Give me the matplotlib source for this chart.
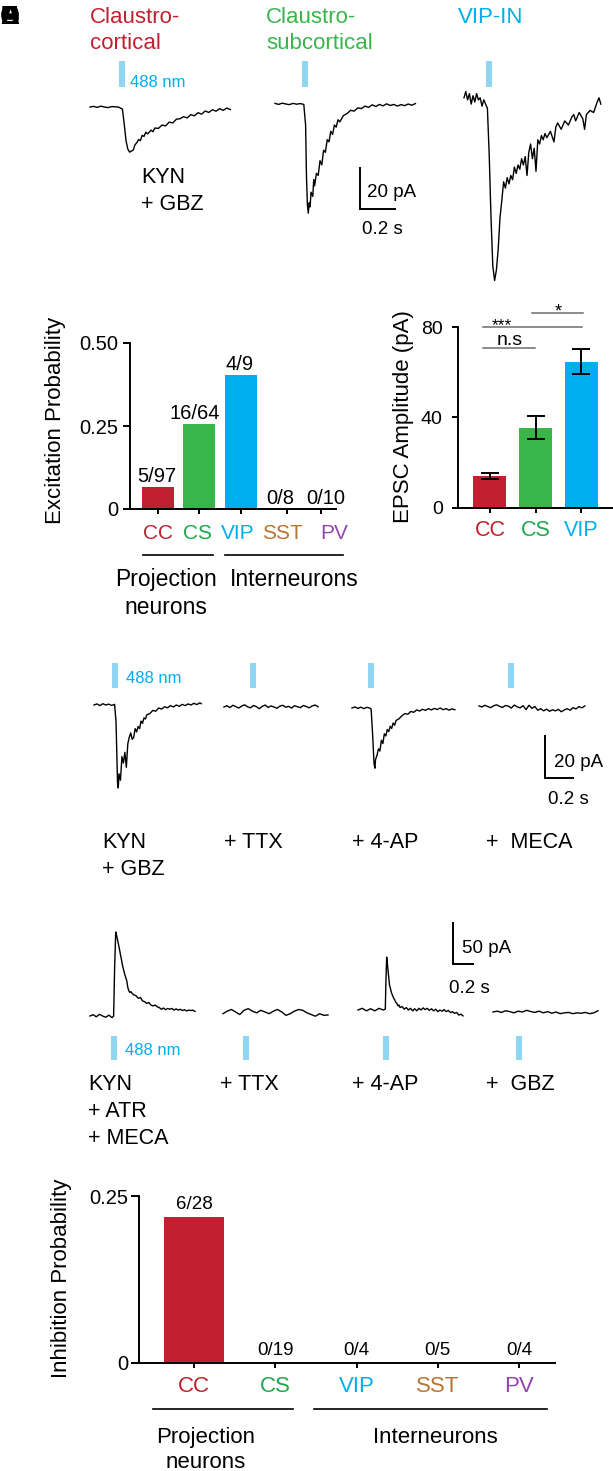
import matplotlib
matplotlib.use("Agg")
import matplotlib.pyplot as plt

plt.rcParams["font.family"] = ["Liberation Sans", "DejaVu Sans"]

W, H = 613, 1471
PT = 100 / 72.0  # pixels per point at 100 dpi

RED = "#c0202f"
GREEN = "#39b54a"
GREEN_TXT = "#1aa94b"
BLUE = "#00aeef"
BROWN = "#b9742f"
PURPLE = "#9146ad"
STIM = "#8fd6f4"
GREY = "#6d6e71"

# ---------------- bar chart data ----------------
exc_cells = ["CC", "CS", "VIP", "SST", "PV"]
exc_prob = [0.067, 0.255, 0.405, 0.0, 0.0]
exc_counts = ["5/97", "16/64", "4/9", "0/8", "0/10"]

epsc_cells = ["CC", "CS", "VIP"]
epsc_mean = [14.2, 35.4, 64.6]
epsc_sem = [1.3, 5.1, 5.5]

inh_cells = ["CC", "CS", "VIP", "SST", "PV"]
inh_prob = [0.218, 0.0, 0.0, 0.0, 0.0]
inh_counts = ["6/28", "0/19", "0/4", "0/5", "0/4"]

cell_color = {"CC": RED, "CS": GREEN, "VIP": BLUE, "SST": BROWN, "PV": PURPLE}
cell_text = {"CC": RED, "CS": GREEN_TXT, "VIP": BLUE, "SST": BROWN, "PV": PURPLE}

# ---------------- traces (time s, current pA) ----------------
trace_cc = [(0, 0), (.02, .3), (.04, -.2), (.06, .4), (.08, 0), (.10, -.3), (.12, .2), (.14, .1), (.16, -.1),
            (.18, -1), (.19, -8), (.20, -16), (.21, -20), (.22, -21.5), (.23, -21), (.24, -20.5), (.25, -18),
            (.26, -17), (.27, -15.5), (.28, -16), (.29, -13.5), (.30, -14), (.31, -12), (.32, -12.8), (.34, -11),
            (.35, -11.8), (.36, -10), (.38, -10.2), (.40, -8.6), (.42, -9), (.44, -7.2), (.46, -7.6), (.48, -5.8),
            (.50, -5.6), (.52, -4.6), (.54, -5.2), (.56, -3.6), (.58, -4.2), (.60, -2.7), (.62, -3.4), (.64, -1.9),
            (.66, -2.6), (.68, -1.3), (.70, -2.0), (.72, -.8), (.74, -1.6), (.76, -.5), (.78, -1.2)]
trace_cs = [(0, .3), (.02, -.2), (.04, .4), (.06, 0), (.08, -.3), (.10, .3), (.12, -.1), (.14, .2), (.16, -.2),
            (.17, -10), (.175, -35), (.18, -48), (.185, -52), (.19, -47), (.195, -49), (.20, -42), (.21, -44),
            (.215, -36), (.22, -39), (.23, -33), (.24, -34), (.25, -27), (.26, -29), (.27, -22), (.28, -23),
            (.29, -17), (.30, -18), (.31, -13), (.32, -14.5), (.33, -10), (.34, -11), (.35, -7.5), (.36, -8.5),
            (.38, -5.5), (.40, -4.6), (.42, -3), (.44, -3.4), (.46, -1.8), (.48, -2.2), (.50, -1), (.52, -1.6),
            (.54, -.4), (.56, -1.2), (.58, -.2), (.60, -.9), (.62, .1), (.64, -.7), (.66, -.2), (.68, -1),
            (.70, -.3), (.72, -.8), (.74, 0), (.76, -.6), (.78, .2)]
trace_vip = [(0, 2), (.01, 5), (.02, 1), (.03, 4), (.04, -1), (.05, 3), (.06, 0), (.07, 4), (.08, 1), (.09, 2),
             (.10, -2), (.11, 1), (.12, -1), (.13, -3), (.14, -25), (.15, -55), (.16, -78), (.17, -85), (.18, -80),
             (.19, -70), (.20, -55), (.21, -47), (.22, -38), (.23, -41), (.24, -36), (.25, -39), (.26, -35),
             (.27, -37), (.28, -31), (.29, -34), (.30, -30), (.31, -32), (.32, -27), (.33, -30), (.34, -26),
             (.35, -35), (.36, -24), (.37, -20), (.38, -27), (.39, -22), (.40, -33), (.41, -18), (.42, -20),
             (.43, -16), (.44, -18), (.45, -15), (.46, -17), (.48, -14), (.50, -19), (.51, -12), (.52, -10),
             (.54, -13), (.56, -9), (.58, -11), (.60, -7), (.61, -6), (.62, -9), (.64, -5), (.66, -8), (.67, -13),
             (.68, -6), (.70, -4), (.72, -5), (.74, 0), (.75, 2), (.76, -1)]

trace_kyn = [(0, 0), (.02, .5), (.04, -.3), (.06, .6), (.08, 0), (.10, .4), (.12, -.2), (.14, .3), (.15, -8),
             (.16, -36), (.165, -38.6), (.17, -32), (.18, -35), (.19, -24), (.20, -27), (.21, -22), (.22, -29),
             (.23, -18), (.24, -15), (.25, -13), (.26, -16), (.27, -15), (.28, -11), (.29, -12.5), (.30, -10),
             (.31, -11), (.32, -7.5), (.33, -8.5), (.34, -6), (.35, -6.5), (.36, -4.5), (.38, -4), (.40, -2.5),
             (.42, -2.9), (.44, -1.4), (.46, -1.9), (.48, -.8), (.50, -1.3), (.52, -.3), (.54, -.9), (.56, 0),
             (.58, -.6), (.60, .3), (.62, -.3), (.64, .5), (.66, 0), (.68, .8), (.70, .2), (.72, 1), (.73, .6)]
trace_ttx = [(0, 0), (.02, .6), (.04, -.3), (.06, .8), (.08, .2), (.10, -.5), (.12, .4), (.14, 1), (.16, .1),
             (.18, -.4), (.20, .7), (.22, .2), (.24, -.8), (.26, .3), (.28, .9), (.30, -.2), (.32, .5), (.34, 0),
             (.36, -.6), (.38, .4), (.40, .8), (.42, -.1), (.44, .3), (.46, -.5), (.48, .6), (.50, .1), (.52, -.3),
             (.54, .7), (.56, .2), (.58, -.4), (.60, .5), (.62, .9), (.64, .1)]
trace_4ap = [(0, 0), (.02, .5), (.04, -.2), (.06, .4), (.08, -.3), (.10, .3), (.12, 0), (.13, -.5), (.14, -12),
             (.15, -26), (.156, -28), (.16, -24), (.17, -22), (.18, -19), (.19, -20), (.20, -15), (.21, -16.5),
             (.22, -12), (.23, -13), (.24, -10), (.25, -11), (.26, -8.5), (.27, -9.5), (.28, -7), (.29, -8),
             (.30, -5.8), (.32, -5), (.34, -3.6), (.36, -2.6), (.38, -2.9), (.40, -1.6), (.42, -2), (.44, -.9),
             (.46, -1.4), (.48, -.6), (.50, -1.1), (.52, -.3), (.54, -.9), (.56, -.2), (.58, -.7), (.60, 0),
             (.62, -.8), (.64, -.3), (.66, -1), (.68, -.4), (.70, -.8)]
trace_meca = [(0, .5), (.02, 0), (.04, .8), (.06, .2), (.08, -.3), (.10, .6), (.12, 1), (.14, .3), (.16, -.2),
              (.18, .7), (.20, .4), (.22, -.5), (.24, .9), (.26, .1), (.28, -.4), (.30, .6), (.32, -1.2), (.34, .8),
              (.36, -.6), (.38, .2), (.40, -1.5), (.42, -.8), (.44, -1.8), (.46, -1), (.48, -2), (.50, -1.3),
              (.52, -1.8), (.54, -1.1), (.56, -2.2), (.58, -1.4), (.60, -.8), (.62, -1.5), (.64, -.3), (.66, -.9),
              (.68, .2), (.70, -.4), (.72, .5)]

trace_ipsc = [(0, 0), (.03, 1.5), (.06, -1), (.09, 2), (.12, 0), (.15, -1.5), (.18, 1), (.21, -2), (.225, 0),
              (.235, 60), (.245, 100), (.25, 98), (.26, 92), (.27, 86), (.28, 80), (.29, 73), (.30, 67), (.31, 60),
              (.32, 55), (.33, 50), (.34, 46), (.35, 42), (.36, 34), (.37, 30), (.38, 28), (.39, 29), (.40, 27),
              (.42, 25), (.44, 24), (.46, 21), (.48, 22), (.50, 18), (.52, 17), (.54, 15), (.56, 16), (.58, 13),
              (.60, 12), (.62, 13), (.64, 11), (.66, 10), (.68, 8), (.70, 9.5), (.72, 7.5), (.74, 9), (.76, 8),
              (.78, 9), (.80, 7), (.82, 8.5), (.84, 7), (.86, 8), (.88, 6.5), (.90, 7.5), (.92, 6), (.94, 7),
              (.96, 6.5), (.98, 7), (1.0, 5.5)]
trace_ipsc_ttx = [(0, -2), (.04, 1), (.08, 3), (.12, 0), (.16, -3), (.20, 2), (.24, 4), (.28, 1), (.32, -1),
                  (.36, 2), (.40, 0), (.44, -2), (.48, 1), (.52, 3), (.56, 0), (.60, -4), (.64, -2), (.68, 1),
                  (.72, 3), (.76, 2), (.80, -1), (.84, -3), (.88, -5), (.92, -2), (.96, -4), (1.0, -3.5)]
trace_ipsc_4ap = [(0, 0), (.04, 2), (.08, -1), (.12, 1.5), (.16, -1), (.20, 2), (.24, 0), (.26, 1), (.265, 30),
                  (.273, 63), (.28, 55), (.29, 42), (.30, 30), (.31, 25), (.32, 20), (.33, 17), (.34, 14),
                  (.35, 12), (.36, 9), (.37, 8), (.38, 5), (.39, 6), (.40, 3), (.42, 4), (.44, 1), (.46, 3),
                  (.48, 0), (.50, 2), (.52, -1), (.54, 1.5), (.56, -1), (.58, 2), (.60, 0), (.62, 2.5), (.64, .5),
                  (.66, 2), (.68, -.5), (.70, 1.5), (.72, -1), (.74, 1), (.76, -2), (.78, 0), (.80, -1.5),
                  (.82, .5), (.84, -2), (.86, -.5), (.88, -3), (.90, -2), (.92, -4), (.94, -3), (.96, -6),
                  (.98, -5), (1.0, -7)]
trace_ipsc_gbz = [(0, 0), (.04, 1), (.08, -.5), (.12, 1.5), (.16, .5), (.20, -1), (.24, 1), (.28, 0), (.32, 2),
                  (.36, .5), (.40, -.5), (.44, 1), (.48, -1), (.52, .5), (.56, -1.5), (.60, 0), (.64, -2),
                  (.68, -1), (.72, -.5), (.76, -2), (.80, -1), (.84, -1.5), (.88, -.5), (.92, -2), (.96, -1),
                  (1.0, 1.5)]

# light onset (s) for every trace, same order as the rows below
stim_a = [0.178, 0.167, 0.139]
stim_d = [0.143, 0.197, 0.129, 0.218]
stim_e = [0.229, 0.219, 0.262, 0.248]

fig = plt.figure(figsize=(W / 100, H / 100), dpi=100)


def px_rect(left, top, right, bottom):
    return [left / W, 1 - bottom / H, (right - left) / W, (bottom - top) / H]


def trace_ax(x0, yb, pps, ppa):
    # full-figure axes: t=0 at pixel x0, 0 pA at pixel row yb
    ax = fig.add_axes([0, 0, 1, 1])
    ax.set_xlim(-x0 / pps, (W - x0) / pps)
    ax.set_ylim(-(H - yb) / ppa, yb / ppa)
    ax.set_axis_off()
    return ax


def px2data(ax, xpx, ypx):
    return ax.transData.inverted().transform((xpx, H - ypx))


def draw_row(traces, origins, stims, pps, ppa, stim_top, stim_bot):
    axes = []
    for tr, (x0, yb), ts in zip(traces, origins, stims):
        ax = trace_ax(x0, yb, pps, ppa)
        t, i = zip(*tr)
        ax.plot(t, i, color="k", lw=1.0)
        lo = px2data(ax, 0, stim_bot)[1]
        hi = px2data(ax, 0, stim_top)[1]
        ax.plot([ts, ts], [lo, hi], color=STIM, lw=4.3, solid_capstyle="butt")
        axes.append(ax)
    return axes


def scale_bar(ax, xpx, ypx, dt, di):
    x, y = px2data(ax, xpx, ypx)
    ax.plot([x, x, x + dt], [y + di, y, y], color="k", lw=1.4,
            solid_joinstyle="miter", solid_capstyle="butt")


# ---------- row A ----------
axA = draw_row([trace_cc, trace_cs, trace_vip], [(90, 107), (275, 104), (464, 102)],
               stim_a, 180, 2.1, 61, 87)
scale_bar(axA[1], 360, 209, 0.2, 20)

# ---------- row D ----------
axD = draw_row([trace_kyn, trace_ttx, trace_4ap, trace_meca],
               [(94, 705), (224, 707), (352, 708), (479, 707)], stim_d, 147, 2.15, 663, 688)
scale_bar(axD[3], 545, 778, 0.2, 20)

# ---------- row E ----------
axE = draw_row([trace_ipsc, trace_ipsc_ttx, trace_ipsc_4ap, trace_ipsc_gbz],
               [(90, 1016), (223, 1012), (358, 1010), (493, 1012)], stim_e, 105, 0.84, 1036, 1060)
scale_bar(axE[2], 453, 964, 0.2, 50)


def style(ax, ylen, ypad, ysize, xlen=3.6):
    for s in ("top", "right"):
        ax.spines[s].set_visible(False)
    for s in ("left", "bottom"):
        ax.spines[s].set_linewidth(1.4)
    ax.tick_params(axis="y", length=ylen, width=1.4, pad=ypad, labelsize=ysize)
    ax.tick_params(axis="x", length=xlen, width=1.4)
    ax.patch.set_visible(False)


# ---------- panel B: excitation probability ----------
axB = fig.add_axes(px_rect(130, 343, 336, 509))
b_pos = [0, 1, 2.02, 3.15, 3.98]
axB.bar(b_pos, exc_prob, width=0.78, color=[cell_color[c] for c in exc_cells], linewidth=0)
axB.set_xlim(-0.683, 4.34)
axB.set_ylim(0, 0.5)
axB.set_yticks([0, 0.25, 0.5], ["0", "0.25", "0.50"])
axB.set_xticks(b_pos, [""] * len(b_pos))
style(axB, 5, 3.6, 14.5)
# count labels sit slightly off the bar centres in the source
b_count_x = [-0.02, 0.9, 2.0, 2.98, 4.1]
for x, v, s in zip(b_count_x, exc_prob, exc_counts):
    axB.annotate(s, (x, v), xytext=(0, 3.5), textcoords="offset points",
                 ha="center", va="baseline", fontsize=14.5, annotation_clip=False)

# ---------- panel C: EPSC amplitude ----------
axC = fig.add_axes(px_rect(458, 327, 613, 508))
c_pos = [0, 1, 2]
axC.bar(c_pos, epsc_mean, width=0.725, color=[cell_color[c] for c in epsc_cells], linewidth=0)
axC.errorbar(c_pos, epsc_mean, yerr=epsc_sem, fmt="none", ecolor="k", elinewidth=1.4,
             capsize=6.5, capthick=1.4)
axC.set_xlim(-0.703, 2.703)
axC.set_ylim(0, 80)
axC.set_yticks([0, 40, 80])
axC.set_xticks(c_pos, epsc_cells)
style(axC, 4, 7, 14)
axC.tick_params(axis="x", labelsize=15.5, pad=5)
for lab, c in zip(axC.get_xticklabels(), epsc_cells):
    lab.set_color(cell_text[c])

# ---------- panel F: inhibition probability ----------
axF = fig.add_axes(px_rect(139, 1196, 555, 1363))
f_pos = [0, 1, 2, 3, 4]
axF.bar(f_pos, inh_prob, width=0.75, color=[cell_color[c] for c in inh_cells], linewidth=0)
axF.set_xlim(-0.677, 4.443)
axF.set_ylim(0, 0.25)
axF.set_yticks([0, 0.25], ["0", "0.25"])
axF.set_xticks(f_pos, inh_cells)
style(axF, 5.8, 2, 14.5)
axF.tick_params(axis="x", labelsize=16, pad=5.4)
for lab, c in zip(axF.get_xticklabels(), inh_cells):
    lab.set_color(cell_text[c])
for x, v, s in zip(f_pos, inh_prob, inh_counts):
    axF.annotate(s, (x, v), xytext=(0, 5.8), textcoords="offset points",
                 ha="center", va="baseline", fontsize=13.5, annotation_clip=False)

# ---------- overlay for free text and decorations (pixel coords) ----------
ov = fig.add_axes([0, 0, 1, 1], zorder=10)
ov.set_xlim(0, W)
ov.set_ylim(H, 0)
ov.set_axis_off()


def label(x, y, s, size, color="k", ha="left", step=27):
    # y = vertical centre of the capitals of the first line, step = line pitch in px
    for k, line in enumerate(s.split("\n")):
        ov.text(x, y + k * step + 0.358 * size * PT, line, fontsize=size, color=color,
                ha=ha, va="baseline")


def vlabel(x, y, s, size=16):
    ov.text(x, y, s, fontsize=size, rotation=90, ha="center", va="center")


# panel letters (piled up in the corner of the source figure)
for letter in "ABCDEF":
    ov.text(0, 24, letter, fontsize=19, weight="bold", va="baseline")

# row A
label(90, 15, "Claustro-\ncortical", 16, RED, step=26)
label(266, 15, "Claustro-\nsubcortical", 16, GREEN, step=26)
label(458, 15, "VIP-IN", 16, BLUE)
label(130, 81, "488 nm", 12, BLUE)
label(141, 175, "KYN\n+ GBZ", 15.5)
label(367, 190, "20 pA", 13.5)
label(362, 227, "0.2 s", 13.5)

# panel B labels
for c, x in zip(exc_cells, [158, 198, 238, 282, 334]):
    label(x, 532, c, 15, cell_text[c], ha="center")
ov.plot([143, 213], [555, 555], color="k", lw=1.2)
ov.plot([225, 343], [555, 555], color="k", lw=1.2)
label(166, 578, "Projection\nneurons", 16.5, ha="center", step=28)
label(294, 578, "Interneurons", 16.5, ha="center")
vlabel(55, 420, "Excitation Probability")

# panel C annotations
vlabel(403, 417, "EPSC Amplitude (pA)")
ov.plot([483, 535], [348, 348], color=GREY, lw=1.1)
ov.plot([483, 582], [327, 327], color=GREY, lw=1.1)
ov.plot([532, 583], [313, 313], color=GREY, lw=1.1)
ov.text(502, 330, "***", fontsize=12.5, ha="center", va="baseline")
ov.text(510, 345, "n.s", fontsize=14, ha="center", va="baseline")
ov.text(558, 316, "*", fontsize=13, ha="center", va="baseline")

# row D
label(126, 677, "488 nm", 12, BLUE)
label(554, 760, "20 pA", 13.5)
label(548, 797, "0.2 s", 13.5)
label(102, 840, "KYN\n+ GBZ", 15.5)
label(224, 840, "+ TTX", 15.5)
label(352, 840, "+ 4-AP", 15.5)
label(486, 840, "+  MECA", 15.5)

# row E
label(125, 1049, "488 nm", 12, BLUE)
label(462, 946, "50 pA", 13.5)
label(449, 986, "0.2 s", 13.5)
label(88, 1082, "KYN\n+ ATR\n+ MECA", 15.5)
label(220, 1082, "+ TTX", 15.5)
label(352, 1082, "+ 4-AP", 15.5)
label(486, 1082, "+  GBZ", 15.5)

# panel F labels
vlabel(62, 1278, "Inhibition Probability")
ov.plot([153, 293], [1409, 1409], color="k", lw=1.2)
ov.plot([314, 547], [1409, 1409], color="k", lw=1.2)
label(206, 1435, "Projection\nneurons", 16, ha="center", step=25)
label(435, 1435, "Interneurons", 16, ha="center")

fig.savefig("out.png", dpi=100)
